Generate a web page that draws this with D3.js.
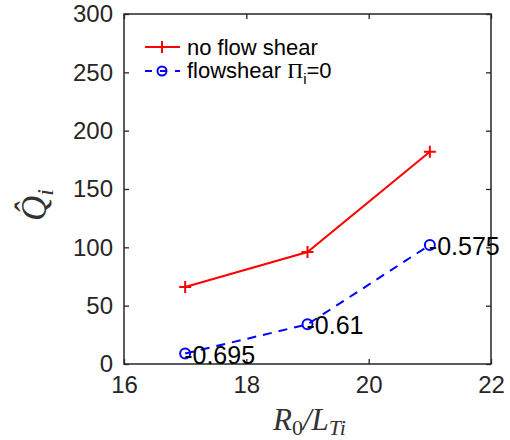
<!DOCTYPE html>
<html>
<head>
<meta charset="utf-8">
<script src="https://cdn.jsdelivr.net/npm/d3@7"></script>
<style>
  body { margin: 0; background: #fff; }
  svg text { font-family: "Liberation Sans", Arial, sans-serif; }
</style>
</head>
<body>
<svg id="chart" width="510" height="440"></svg>
<script>
// data
const gradients = [17, 19, 21];
const noShear = [66, 96, 182];
const flowShear = [9, 34, 102];
const shearLabels = ["0.695", "0.61", "0.575"];
const xTicks = [16, 18, 20, 22];
const yTicks = [0, 50, 100, 150, 200, 250, 300];

const axisCol = "#262626";
const margin = {top: 14, right: 19, bottom: 76, left: 124};

const svg = d3.select("#chart");
const W = +svg.attr("width"), H = +svg.attr("height");

const x = d3.scaleLinear().domain([16, 22]).range([margin.left, W - margin.right]);
const y = d3.scaleLinear().domain([0, 300]).range([H - margin.bottom, margin.top]);

// title is cut off by the top of the picture, only descenders show
svg.append("text")
    .attr("x", 420).attr("y", -7)
    .attr("text-anchor", "end")
    .style("font-family", "'Liberation Serif', serif")
    .style("font-style", "italic")
    .style("font-size", "28px")
    .attr("fill", axisCol)
    .text("flowshear γ, Π")
  .append("tspan").attr("dy", 6).style("font-size", "20px").text("i");

// frame
svg.append("rect")
    .attr("x", x(16)).attr("y", y(300))
    .attr("width", x(22) - x(16)).attr("height", y(0) - y(300))
    .attr("fill", "none").attr("stroke", axisCol).attr("stroke-width", 1.5);

function axisStyle(g) {
    g.select(".domain").remove();
    g.selectAll(".tick line").attr("stroke", axisCol).attr("stroke-width", 1.3);
    g.selectAll(".tick text").attr("fill", axisCol).style("font-size", "24px")
        .style("font-family", "'Liberation Sans', Arial, sans-serif");
}

// inward ticks on all four sides
svg.append("g").attr("transform", `translate(0,${y(0)})`)
    .call(d3.axisBottom(x).tickValues(xTicks).tickSize(-5).tickPadding(12).tickFormat(d3.format("d")))
    .call(axisStyle);
svg.append("g").attr("transform", `translate(0,${y(300)})`)
    .call(d3.axisTop(x).tickValues(xTicks).tickSize(-5).tickFormat(""))
    .call(axisStyle);
svg.append("g").attr("transform", `translate(${x(16)},0)`)
    .call(d3.axisLeft(y).tickValues(yTicks).tickSize(-5).tickPadding(11).tickFormat(d3.format("d")))
    .call(axisStyle);
svg.append("g").attr("transform", `translate(${x(22)},0)`)
    .call(d3.axisRight(y).tickValues(yTicks).tickSize(-5).tickFormat(""))
    .call(axisStyle);

// axis labels
svg.append("text")
    .attr("x", (x(16) + x(22)) / 2 + 2).attr("y", 430)
    .attr("text-anchor", "middle")
    .style("font-family", "'Liberation Serif', serif")
    .style("font-style", "italic").style("font-size", "31px")
    .attr("fill", "#333")
    .call(t => {
        t.append("tspan").text("R");
        t.append("tspan").attr("dy", 5).style("font-size", "22px").style("font-style", "normal").text("0");
        t.append("tspan").attr("dy", -5).text("/L");
        t.append("tspan").attr("dy", 5).style("font-size", "22px").text("Ti");
    });

svg.append("text")
    .attr("transform", `translate(46,${(y(0) + y(300)) / 2 + 16}) rotate(-90)`)
    .attr("text-anchor", "middle")
    .style("font-family", "'Liberation Serif', serif")
    .style("font-style", "italic").style("font-size", "35px")
    .attr("fill", "#333")
    .call(t => {
        t.append("tspan").text("Q\u0302");
        t.append("tspan").attr("dy", 7).style("font-size", "24px").text("i");
    });

const line = d3.line().x(d => x(d[0])).y(d => y(d[1]));

// no flow shear
svg.append("path")
    .datum(gradients.map((g, i) => [g, noShear[i]]))
    .attr("d", line)
    .attr("fill", "none").attr("stroke", "#ff0000").attr("stroke-width", 2);
svg.selectAll(".plus")
    .data(gradients.map((g, i) => [g, noShear[i]]))
    .join("path")
    .attr("class", "plus")
    .attr("d", "M-6,0H6M0,-6V6")
    .attr("transform", d => `translate(${x(d[0])},${y(d[1])})`)
    .attr("stroke", "#ff0000").attr("stroke-width", 2);

// flow shear Pi_i = 0
svg.append("path")
    .datum(gradients.map((g, i) => [g, flowShear[i]]))
    .attr("d", line)
    .attr("fill", "none").attr("stroke", "#0000ff").attr("stroke-width", 2)
    .attr("stroke-dasharray", "9,7");
svg.selectAll(".circ")
    .data(gradients.map((g, i) => [g, flowShear[i]]))
    .join("circle")
    .attr("class", "circ")
    .attr("cx", d => x(d[0])).attr("cy", d => y(d[1])).attr("r", 5)
    .attr("fill", "none").attr("stroke", "#0000ff").attr("stroke-width", 2);

// labels beside the blue points
svg.selectAll(".lbl")
    .data(gradients.map((g, i) => [g, flowShear[i], shearLabels[i]]))
    .join("text")
    .attr("class", "lbl")
    .attr("x", d => x(d[0]) - 1).attr("y", d => y(d[1]) + 10)
    .style("font-size", "25px").attr("fill", "#000")
    .text(d => "-" + d[2]);

// legend
const lg = svg.append("g");
lg.append("line").attr("x1", 145).attr("x2", 180).attr("y1", 47).attr("y2", 47)
    .attr("stroke", "#ff0000").attr("stroke-width", 2);
lg.append("path").attr("d", "M-6,0H6M0,-6V6").attr("transform", "translate(162,47)")
    .attr("stroke", "#ff0000").attr("stroke-width", 2);
lg.append("text").attr("x", 187).attr("y", 55).style("font-size", "22px").attr("fill", "#000")
    .text("no flow shear");

lg.append("line").attr("x1", 145).attr("x2", 180).attr("y1", 71).attr("y2", 71)
    .attr("stroke", "#0000ff").attr("stroke-width", 2).attr("stroke-dasharray", "7,8");
lg.append("circle").attr("cx", 162).attr("cy", 71).attr("r", 4.5)
    .attr("fill", "none").attr("stroke", "#0000ff").attr("stroke-width", 2);
lg.append("text").attr("x", 187).attr("y", 78).style("font-size", "22px").attr("fill", "#000")
    .call(t => {
        t.append("tspan").text("flowshear ");
        t.append("tspan").style("font-family", "'Liberation Serif', serif").text("Π");
        t.append("tspan").attr("dy", 6).style("font-size", "15px").text("i");
        t.append("tspan").attr("dy", -6).text("=0");
    });
</script>
</body>
</html>
